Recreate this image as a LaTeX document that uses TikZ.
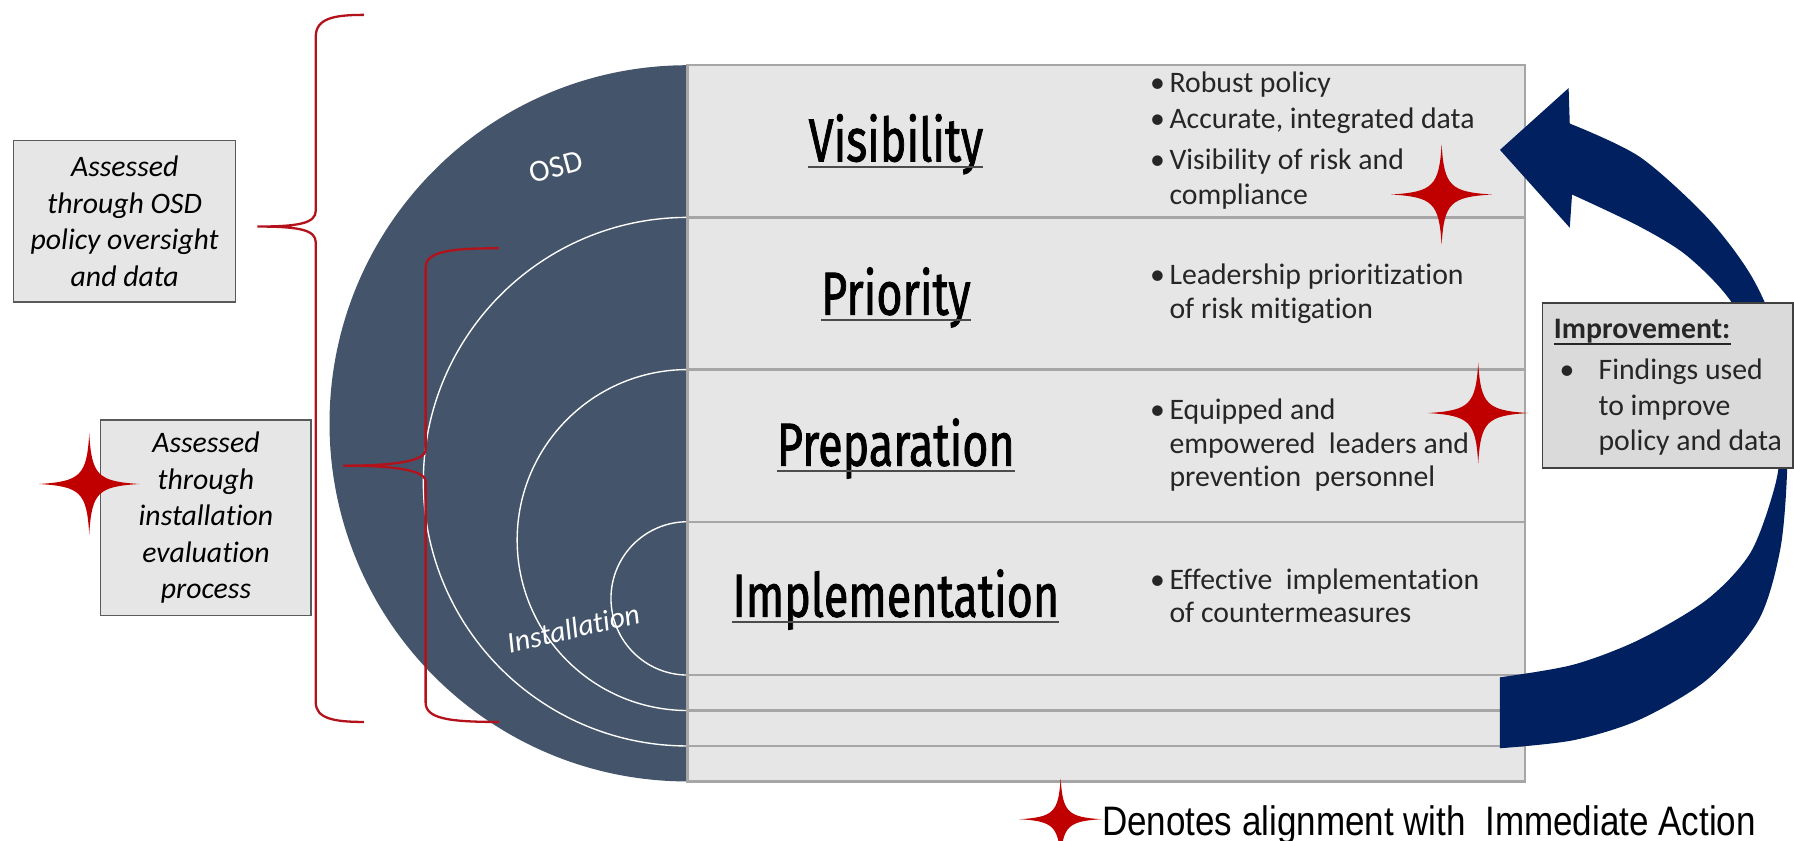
\documentclass[tikz,border=0pt]{standalone}
\usepackage{fontspec}
\setmainfont{Carlito}[Ligatures=NoCommon]
\newfontfamily\titlefont{Fira Sans}[FakeBold=1.6]
\newfontfamily\legendfont{Liberation Sans}
\definecolor{slate}{HTML}{44546A}
\definecolor{navy}{HTML}{002060}
\definecolor{starred}{HTML}{C00000}
\definecolor{bracered}{HTML}{B3121B}
\definecolor{cellfill}{HTML}{E7E6E6}
\definecolor{cellline}{HTML}{A6A6A6}
\definecolor{boxfill}{HTML}{E6E6E6}
\definecolor{impfill}{HTML}{DADADA}
\definecolor{boxline}{HTML}{5A5A5A}
\tikzset{
  pics/spark/.style={code={
    \fill[starred] (0,#1) .. controls (0.05*#1,0.17*#1) and (0.17*#1,0.05*#1) .. (#1,0)
      .. controls (0.17*#1,-0.05*#1) and (0.05*#1,-0.17*#1) .. (0,-#1)
      .. controls (-0.05*#1,-0.17*#1) and (-0.17*#1,-0.05*#1) .. (-#1,0)
      .. controls (-0.17*#1,0.05*#1) and (-0.05*#1,0.17*#1) .. (0,#1) -- cycle;}},
  rowbox/.style={draw=cellline, line width=2pt, fill=cellfill, minimum width=732pt, inner sep=0pt},
  sidebox/.style={draw=boxline, line width=1.3pt, fill=boxfill, inner sep=0pt, align=center,
    font=\itshape\fontsize{26}{32}\selectfont},
  ttl/.style={font=\titlefont\fontsize{53}{53}\selectfont, anchor=base, inner sep=0pt},
  uline/.style={draw=black!70, line width=1.6pt},
  btxt/.style={font=\fontsize{26}{31}\selectfont, anchor=base west, inner sep=0pt, text=black!85},
  bracestroke/.style={draw=bracered, line width=2pt},
  ringline/.style={draw=white, line width=1.2pt},
}
\newcommand{\bul}{\makebox[17pt][l]{\textbullet}}
\newcommand{\cond}[1]{\scalebox{0.74}[1]{#1}}
\begin{document}
\begin{tikzpicture}[x=1pt,y=-1pt]
\useasboundingbox (0,0) rectangle (1568,735);

% half disc with rings
\begin{scope}
  \clip (0,0) rectangle (601,735);
  \fill[slate] (601,370) circle[radius=313pt];
  \draw[ringline] (601,421) circle[radius=231pt];
  \draw[ringline] (601,472) circle[radius=149pt];
  \draw[ringline] (601,523) circle[radius=67pt];
\end{scope}
\node[white, rotate=15, inner sep=0pt, font=\fontsize{27}{27}\selectfont] (osd) at (486,146) {OSD};
\node[white, rotate=13, inner sep=0pt, font=\itshape\fontsize{26}{26}\selectfont] (inst) at (501,549) {Installation};

% table rows
\node[rowbox, minimum height=133pt] (r1) at (967,123.5) {};
\node[rowbox, minimum height=133pt] (r2) at (967,256.5) {};
\node[rowbox, minimum height=133pt] (r3) at (967,389.5) {};
\node[rowbox, minimum height=134pt] (r4) at (967,523) {};
\node[rowbox, minimum height=31pt] (r5) at (967,605.5) {};
\node[rowbox, minimum height=31pt] (r6) at (967,636.5) {};
\node[rowbox, minimum height=31pt] (r7) at (967,667.5) {};

% titles
\node[ttl] (tv) at (783,141) {\cond{Visibility}};
\node[ttl] (tp) at (783,275) {\cond{Priority}};
\node[ttl] (tr) at (783,407) {\cond{Preparation}};
\node[ttl] (ti) at (783,539) {\cond{Implementation}};
\foreach \t in {tv,tp,tr,ti}
  \draw[uline] ([yshift=-5pt]\t.base west) -- ([yshift=-5pt]\t.base east);

% bullets
\node[btxt] (v1) at (1005,81) {\bul Robust policy};
\node[btxt] (v2) at (1005,112) {\bul Accurate, integrated data};
\node[btxt] (v3) at (1005,148) {\bul Visibility of risk and};
\node[btxt] (v4) at (1022,179) {compliance};
\node[btxt] (p1) at (1005,249) {\bul Leadership prioritization};
\node[btxt] (p2) at (1022,278) {of risk mitigation};
\node[btxt] (e1) at (1005,367) {\bul Equipped and};
\node[btxt] (e2) at (1022,396) {empowered\ \ leaders and};
\node[btxt] (e3) at (1022,425) {prevention\ \ personnel};
\node[btxt] (m1) at (1005,515) {\bul Effective\ \ implementation};
\node[btxt] (m2) at (1022,544) {of countermeasures};

% side boxes
\node[sidebox, minimum width=194pt, minimum height=141pt] (osdbox) at (109,193.5)
  {Assessed\\through OSD\\policy oversight\\and data};
\node[sidebox, minimum width=184pt, minimum height=171pt] (instbox) at (180,452.5)
  {Assessed\\through\\installation\\evaluation\\process};

% braces
\draw[bracestroke] (318,13) .. controls (292,13) and (276,16) .. (276,32) -- (276,184)
  .. controls (276,195) and (262,198) .. (225,198)
  .. controls (262,198) and (276,201) .. (276,212) -- (276,614)
  .. controls (276,628) and (292,631) .. (318,631);
\draw[bracestroke] (436,217) .. controls (392,217) and (372,220) .. (372,234) -- (372,393)
  .. controls (372,404) and (340,407) .. (300,407)
  .. controls (340,407) and (372,410) .. (372,421) -- (372,614)
  .. controls (372,628) and (392,631) .. (436,631);

% curved arrow
\fill[navy] plot[smooth] coordinates {(1311,592) (1375,581) (1433,559) (1492,524) (1530,483) (1551,426) (1555,390) (1546,330) (1514,265) (1475,224) (1433,198) (1374,170)}
  -- (1372,199) -- (1311,131) -- (1371,77) -- (1372,108)
  -- plot[smooth] coordinates {(1372,108) (1433,137) (1492,190) (1530,240) (1552,290) (1561,350) (1562,411) (1556,480) (1537,542) (1492,594) (1433,629) (1375,647) (1311,654)}
  -- cycle;

% improvement box
\node[draw=black!75, line width=1.3pt, fill=impfill, minimum width=219pt, minimum height=144pt, inner sep=0pt] (imp) at (1457.5,337) {};
\node[btxt, font=\bfseries\fontsize{26}{31}\selectfont] (impt) at (1358,296) {Improvement:};
\draw[draw=black!85, line width=1.6pt] ([yshift=-5pt]impt.base west) -- ([yshift=-5pt]impt.base east);
\node[btxt] (i0) at (1363,332) {\textbullet};
\node[btxt] (i1) at (1397,332) {Findings used};
\node[btxt] (i2) at (1397,363) {to improve};
\node[btxt] (i3) at (1397,394) {policy and data};

% stars
\pic at (1260,170) {spark=44};
\pic at (1292,361) {spark=44};
\pic at (78,423) {spark=44};
\pic at (927,716) {spark=36};

% legend
\node[anchor=base west, inner sep=0pt, font=\legendfont\fontsize{36}{36}\selectfont] (legend) at (963,730)
  {\scalebox{0.85}[1]{Denotes alignment with\ \ Immediate Action}};
\end{tikzpicture}
\end{document}
